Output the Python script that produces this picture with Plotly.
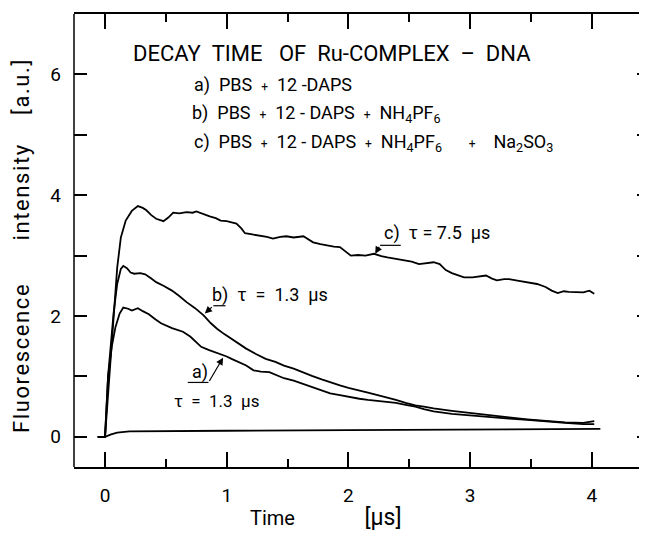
import plotly.graph_objects as go

# ---------------- data ----------------
time_base = [-0.06, 0.0, 0.05, 0.10, 0.20, 0.30, 1.0, 2.0, 3.0, 4.0, 4.07]
base_y = [0, 0, 0.04, 0.07, 0.09, 0.09, 0.10, 0.11, 0.12, 0.13, 0.13]

time_a = [-0.06, 0.0, 0.025, 0.055, 0.086, 0.12, 0.15, 0.19, 0.22, 0.27, 0.31, 0.36, 0.41, 0.46,
          0.55, 0.64, 0.70, 0.75, 0.79, 0.85, 0.92, 1.0, 1.04, 1.10, 1.16, 1.22, 1.28, 1.35, 1.41,
          1.47, 1.55, 1.62, 1.70, 1.78, 1.85, 1.93, 2.0, 2.09, 2.16, 2.24, 2.32, 2.39, 2.47, 2.55,
          2.62, 2.70, 2.85, 3.01, 3.15, 3.32, 3.47, 3.62, 3.78, 3.93, 4.02]
curve_a = [0, 0, 1.0, 1.49, 1.82, 2.04, 2.14, 2.12, 2.09, 2.13, 2.08, 2.03, 1.95, 1.88,
           1.80, 1.74, 1.66, 1.56, 1.49, 1.44, 1.39, 1.33, 1.29, 1.24, 1.18, 1.10, 1.08, 1.07, 1.02,
           0.97, 0.93, 0.88, 0.82, 0.77, 0.72, 0.69, 0.66, 0.63, 0.61, 0.59, 0.58, 0.56, 0.53, 0.50,
           0.46, 0.42, 0.38, 0.35, 0.33, 0.30, 0.28, 0.25, 0.23, 0.21, 0.21]

time_b = [-0.06, 0.0, 0.025, 0.05, 0.07, 0.10, 0.13, 0.15, 0.18, 0.21, 0.24, 0.29, 0.33, 0.38,
          0.42, 0.48, 0.55, 0.61, 0.67, 0.74, 0.81, 0.87, 0.92, 0.98, 1.04, 1.10, 1.16, 1.24, 1.32,
          1.40, 1.47, 1.55, 1.62, 1.70, 1.78, 1.85, 1.93, 2.0, 2.09, 2.16, 2.24, 2.32, 2.39, 2.47,
          2.55, 2.62, 2.70, 2.85, 3.01, 3.15, 3.32, 3.47, 3.62, 3.78, 3.93, 4.02]
curve_b = [0, 0, 1.0, 1.6, 2.04, 2.53, 2.78, 2.83, 2.79, 2.72, 2.70, 2.71, 2.69, 2.62,
           2.56, 2.50, 2.42, 2.33, 2.23, 2.13, 2.01, 1.88, 1.79, 1.70, 1.62, 1.55, 1.46, 1.37, 1.29,
           1.24, 1.18, 1.13, 1.07, 1.01, 0.95, 0.90, 0.85, 0.81, 0.77, 0.73, 0.69, 0.65, 0.61, 0.56,
           0.52, 0.50, 0.47, 0.43, 0.39, 0.35, 0.32, 0.29, 0.26, 0.24, 0.23, 0.26]

time_c = [-0.06, 0.0, 0.05, 0.10, 0.13, 0.17, 0.22, 0.27, 0.31, 0.34, 0.38, 0.42, 0.48, 0.52,
          0.56, 0.61, 0.67, 0.72, 0.75, 0.80, 0.86, 0.91, 0.95, 1.0, 1.08, 1.12, 1.15, 1.21, 1.27,
          1.33, 1.38, 1.44, 1.49, 1.55, 1.63, 1.67, 1.71, 1.77, 1.82, 1.88, 1.93, 1.98, 2.02, 2.08,
          2.14, 2.21, 2.27, 2.32, 2.38, 2.46, 2.52, 2.58, 2.64, 2.70, 2.75, 2.80, 2.85, 2.90, 2.95,
          3.02, 3.08, 3.13, 3.18, 3.22, 3.28, 3.32, 3.40, 3.47, 3.55, 3.62, 3.67, 3.72, 3.77, 3.81,
          3.87, 3.93, 3.98, 4.02]
curve_c = [0, 0, 1.4, 2.8, 3.3, 3.58, 3.74, 3.82, 3.79, 3.75, 3.67, 3.61, 3.57, 3.63,
           3.71, 3.70, 3.72, 3.71, 3.73, 3.69, 3.65, 3.62, 3.58, 3.57, 3.53, 3.45, 3.37, 3.35, 3.33,
           3.31, 3.28, 3.31, 3.32, 3.30, 3.32, 3.27, 3.22, 3.19, 3.17, 3.15, 3.14, 3.06, 3.00, 3.01,
           3.00, 3.03, 2.99, 2.97, 2.95, 2.92, 2.90, 2.86, 2.88, 2.89, 2.86, 2.76, 2.71, 2.68, 2.64,
           2.64, 2.66, 2.67, 2.62, 2.59, 2.61, 2.61, 2.58, 2.56, 2.53, 2.48, 2.42, 2.38, 2.41, 2.40,
           2.39, 2.39, 2.42, 2.37]

x_ticks = [0, 1, 2, 3, 4]
y_ticks = [0, 1, 2, 3, 4, 5, 6]
y_ticktext = ["0", "", "2", "", "4", "", "6"]
x_range = [-0.255, 4.478]
y_range = [-0.5, 7.0]

# leader lines for the curve labels (data coordinates)
lead_c = dict(line=[2.26, 2.43, 3.17], tip=[2.22, 3.03])
lead_b = dict(line=[0.89, 0.99, 2.17], tip=[0.82, 2.04])
lead_a = dict(line=[0.68, 0.85, 0.90], tip=[0.97, 1.31])

# ---------------- layout geometry (window pixels; page body has an 8px margin) ----------------
OFF = 8
PL, PR, PT, PB = 74, 650, 14, 467          # plot-area edges in window pixels
FB = 534                                   # figure bottom in window pixels
W, H = PR - OFF, FB - OFF
ML, MR, MT, MB = PL - OFF, 0, PT - OFF, FB - PB
PW, PH = PR - PL, PB - PT
FONT = "Roboto"
LW = 1.8


def px(xi, yi):
    return (xi - PL) / PW, (PB - yi) / PH


fig = go.Figure()
line = dict(color="black", width=LW)
for xs, ys in ((time_base, base_y), (time_a, curve_a), (time_b, curve_b), (time_c, curve_c)):
    fig.add_trace(go.Scatter(x=xs, y=ys, mode="lines", line=line, hoverinfo="skip"))

ann = []


def text(xi, yi, s, size=18, anchor="left", angle=0):
    xp, yp = px(xi, yi)
    ann.append(dict(x=xp, y=yp, xref="paper", yref="paper", text=s, showarrow=False,
                    xanchor=anchor, yanchor="middle", textangle=angle,
                    font=dict(family=FONT, size=size, color="black")))


NB = "\u00a0"
plus = "<span style='font-size:12px'>+</span>"
text(131, 53, f"DECAY{NB*2}TIME{NB*3}OF{NB*2}Ru-COMPLEX{NB*2}–{NB*2}DNA", size=22)
text(192, 85, f"a){NB*2}PBS{NB*2}{plus}{NB*2}12{NB}-DAPS", size=18)
text(190, 114, f"b){NB*2}PBS{NB*2}{plus}{NB*2}12{NB}-{NB}DAPS{NB*2}{plus}{NB*2}NH<sub>4</sub>PF<sub>6</sub>", size=18)
text(192, 143, f"c){NB*2}PBS{NB*2}{plus}{NB*2}12{NB}-{NB}DAPS{NB*2}{plus}{NB*2}NH<sub>4</sub>PF<sub>6</sub>{NB*6}{plus}{NB*4}Na<sub>2</sub>SO<sub>3</sub>", size=18)

text(382, 233, f"c){NB*2}τ{NB}={NB}7.5{NB*2}μs", size=18)
text(210, 295, f"b){NB*2}τ{NB*2}={NB*2}1.3{NB*2}μs", size=18)
text(190, 372, "a)", size=18)
text(172, 401, f"τ{NB*2}={NB*2}1.3{NB*2}μs", size=17)

# axis titles
text(326, 518, f"Time{NB*14}<span style='font-size:23px'>[μs]</span>", size=20, anchor="center")
text(22, 246, f"<span style='letter-spacing:1.6px'>Fluorescence{NB*6}intensity{NB*4}[a.u.]</span>",
     size=22, anchor="center", angle=-90)

# leader arrows
for ld, start in ((lead_c, 0), (lead_b, 0), (lead_a, 1)):
    x0, x1, yl = ld["line"]
    fig.add_shape(type="line", x0=x0, x1=x1, y0=yl, y1=yl, xref="x", yref="y",
                  line=dict(color="black", width=1.2))
    ann.append(dict(x=ld["tip"][0], y=ld["tip"][1], ax=ld["line"][start], ay=yl, xref="x", yref="y",
                    axref="x", ayref="y", text="", showarrow=True, arrowhead=2, arrowsize=1.2,
                    arrowwidth=1.2, arrowcolor="black"))

# left frame line (the right frame edge lies outside the picture)
fig.add_shape(type="line", xref="paper", yref="paper", x0=0, x1=0, y0=0, y1=1,
              line=dict(color="black", width=1.5))

tickfont = dict(family=FONT, size=19, color="black")
fig.update_layout(
    width=W, height=H, margin=dict(l=ML, r=MR, t=MT, b=MB, autoexpand=False),
    paper_bgcolor="white", plot_bgcolor="white", showlegend=False,
    annotations=ann,
    xaxis=dict(range=x_range, tickvals=x_ticks, ticks="inside", ticklen=15, tickwidth=1.5,
               tickcolor="black", showline=True, linecolor="black", linewidth=1.5, mirror="allticks",
               showgrid=False, zeroline=False, tickfont=tickfont, ticklabelstandoff=10,
               minor=dict(dtick=0.5, tick0=0, ticks="inside", ticklen=8, tickwidth=1.5,
                          tickcolor="black", showgrid=False)),
    yaxis=dict(range=y_range, tickvals=y_ticks, ticktext=y_ticktext, ticks="inside", ticklen=13,
               tickwidth=1.5, tickcolor="black", showline=False,
               mirror="ticks", showgrid=False, zeroline=False, tickfont=tickfont,
               ticklabelstandoff=12),
)

fig.write_html("out.html")
